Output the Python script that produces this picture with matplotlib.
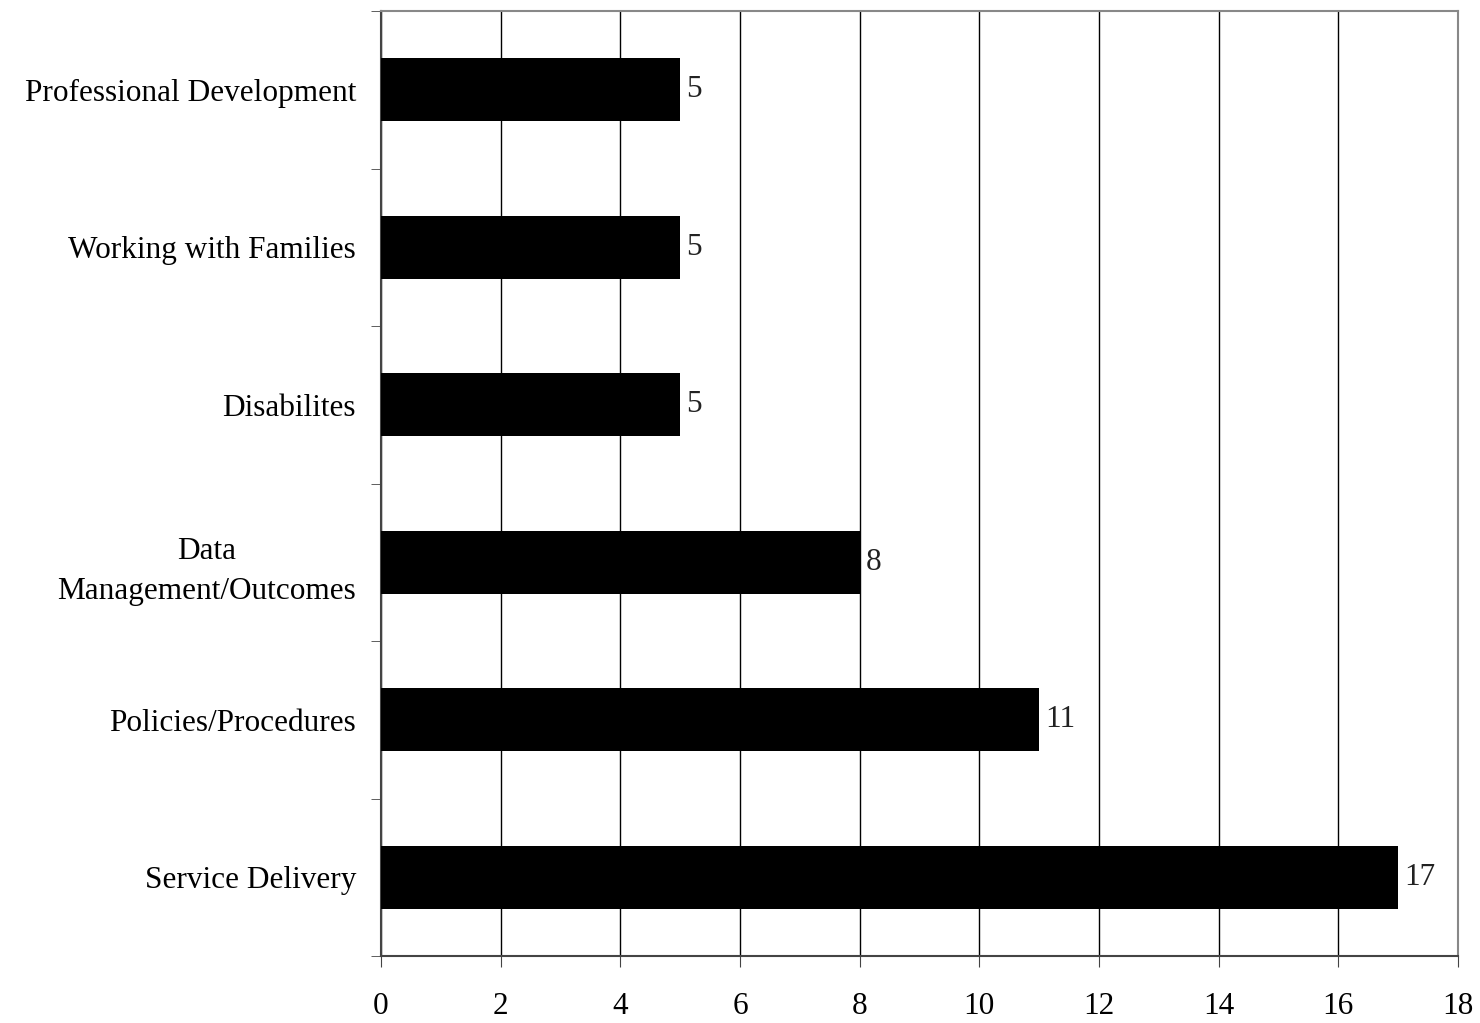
import matplotlib
matplotlib.use("Agg")
import matplotlib.pyplot as plt
from matplotlib.ticker import FixedLocator

categories = ["Service Delivery", "Policies/Procedures", "Data\nManagement/Outcomes",
              "Disabilites", "Working with Families", "Professional Development"]
values = [17, 11, 8, 5, 5, 5]
xticks = [0, 2, 4, 6, 8, 10, 12, 14, 16, 18]

plt.rcParams['font.family'] = ['Liberation Serif', 'DejaVu Serif']
fs = 22.5

fig = plt.figure(figsize=(14.8, 10.23), dpi=100)
ax = fig.add_axes([381/1480, 1 - 956/1023, (1458-381)/1480, (956-11)/1023])

y = list(range(len(categories)))
ax.barh(y, values, height=0.4, color='black', zorder=3)
for yi, v in zip(y, values):
    ax.text(v + 0.1, yi, str(v), va='center', ha='left', fontsize=fs, color='#222222')

ax.set_xlim(0, 18)
ax.set_ylim(-0.5, len(categories) - 0.5)
ax.set_xticks(xticks)
ax.set_xticklabels([str(t) for t in xticks], fontsize=fs)
ax.set_yticks(y)
ax.set_yticklabels(categories, fontsize=fs, ha='right', multialignment='center',
                   linespacing=1.5)
ax.yaxis.set_minor_locator(FixedLocator([i - 0.5 for i in range(len(categories) + 1)]))
ax.tick_params(axis='y', which='major', length=0, pad=18)
ax.tick_params(axis='y', which='minor', length=7, direction='out', color='#444444')
ax.tick_params(axis='x', which='major', length=8, direction='out', pad=18, color='#444444')
ax.grid(axis='x', color='black', linewidth=1.0, zorder=0)
ax.set_axisbelow(True)
for s in ['top', 'right']:
    ax.spines[s].set_color('#888888')
    ax.spines[s].set_linewidth(1.5)
for s in ['left', 'bottom']:
    ax.spines[s].set_color('#444444')
    ax.spines[s].set_linewidth(1.5)

fig.savefig('out.png', dpi=100, facecolor='white')
